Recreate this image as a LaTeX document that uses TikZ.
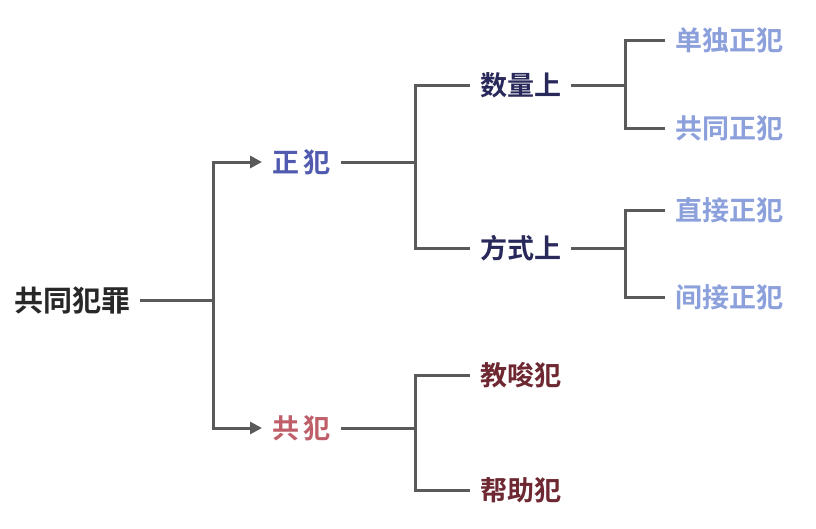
\documentclass[tikz,border=0pt]{standalone}
\usepackage{fontspec}
\newfontfamily\cjk{Noto Sans CJK SC}[BoldFont={Noto Sans CJK SC Bold}]
\usetikzlibrary{arrows.meta}
\definecolor{cRoot}{RGB}{40,40,40}
\definecolor{cZheng}{RGB}{80,90,175}
\definecolor{cGong}{RGB}{190,95,105}
\definecolor{cMid}{RGB}{40,40,90}
\definecolor{cLeaf}{RGB}{140,160,220}
\definecolor{cRed}{RGB}{110,40,50}
\definecolor{cLine}{RGB}{90,90,90}
\tikzset{
  lbl/.style={font=\cjk\bfseries\fontsize{27}{30}\selectfont, inner sep=0pt, anchor=west},
  conn/.style={draw=cLine, line width=3pt},
  arr/.style={conn, -{Triangle[length=12pt,width=12pt]}}
}
\begin{document}
\begin{tikzpicture}[x=1pt,y=-1pt]
\useasboundingbox (0,0) rectangle (816,528);
\node[lbl, text=cRoot, font=\cjk\bfseries\fontsize{29}{32}\selectfont] (root) at (14,300) {共同犯罪};
\node[lbl, text=cZheng] (zf) at (272,162) {正\,犯};
\node[lbl, text=cGong] (gf) at (272,428) {共\,犯};
\node[lbl, text=cMid] (sl) at (480,85) {数量上};
\node[lbl, text=cMid] (fs) at (480,248) {方式上};
\node[lbl, text=cLeaf] (l1) at (675,40) {单独正犯};
\node[lbl, text=cLeaf] (l2) at (675,128) {共同正犯};
\node[lbl, text=cLeaf] (l3) at (675,210) {直接正犯};
\node[lbl, text=cLeaf] (l4) at (675,297) {间接正犯};
\node[lbl, text=cRed] (js) at (480,375) {教唆犯};
\node[lbl, text=cRed] (bz) at (480,490) {帮助犯};
% root
\draw[conn] ([xshift=10pt]root.east) -- (213,300);
\draw[arr] (213,300) |- ([xshift=-10pt]zf.west);
\draw[arr] (213,300) |- ([xshift=-10pt]gf.west);
% zheng fan
\draw[conn] ([xshift=10pt]zf.east) -- (415,162);
\draw[conn] (415,162) |- ([xshift=-10pt]sl.west);
\draw[conn] (415,162) |- ([xshift=-10pt]fs.west);
% shuliang
\draw[conn] ([xshift=10pt]sl.east) -- (625,85);
\draw[conn] (625,85) |- ([xshift=-10pt]l1.west);
\draw[conn] (625,85) |- ([xshift=-10pt]l2.west);
% fangshi
\draw[conn] ([xshift=10pt]fs.east) -- (625,248);
\draw[conn] (625,248) |- ([xshift=-10pt]l3.west);
\draw[conn] (625,248) |- ([xshift=-10pt]l4.west);
% gong fan
\draw[conn] ([xshift=10pt]gf.east) -- (415,428);
\draw[conn] (415,428) |- ([xshift=-10pt]js.west);
\draw[conn] (415,428) |- ([xshift=-10pt]bz.west);
\end{tikzpicture}
\end{document}
